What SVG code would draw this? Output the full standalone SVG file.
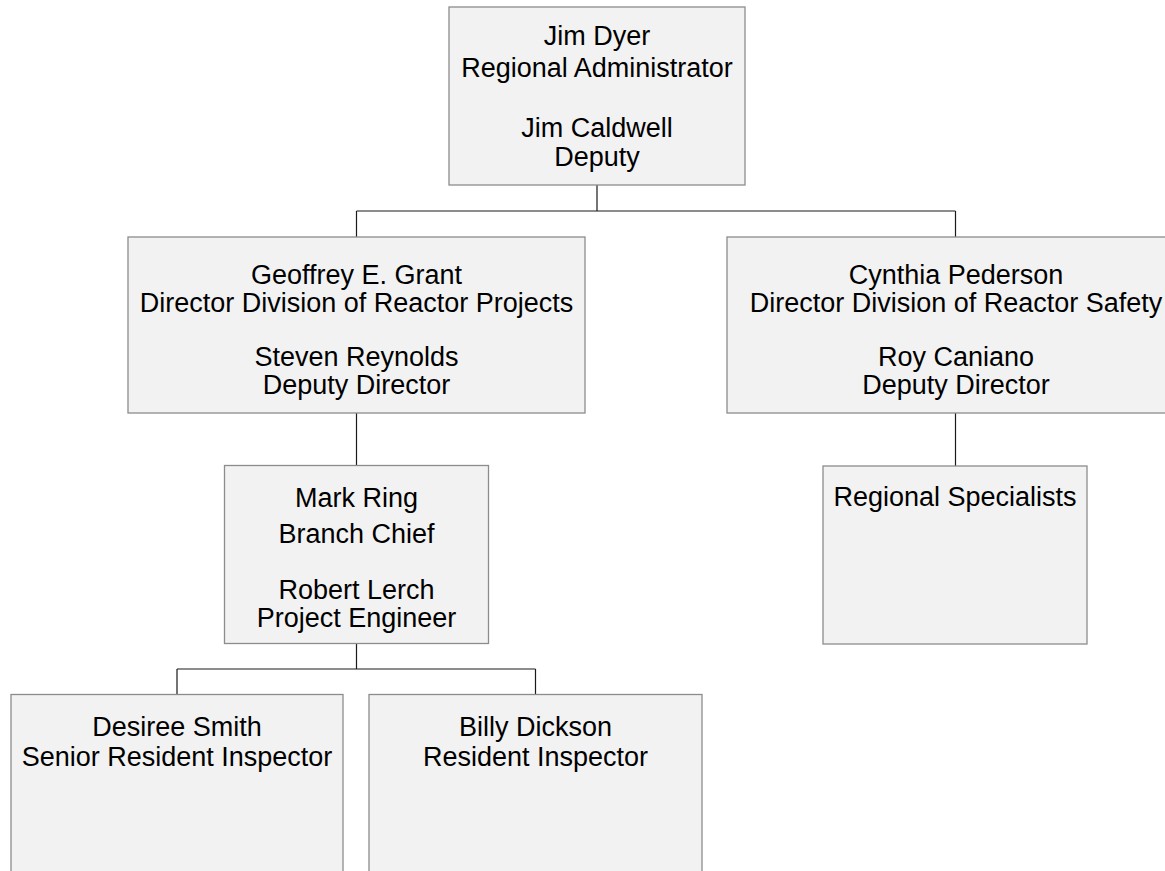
<svg xmlns="http://www.w3.org/2000/svg" width="1165" height="871" viewBox="0 0 1165 871">
<style>
.box{fill:#f2f2f2;stroke:#8c8c8c;stroke-width:1.3}
.t{font-family:"Liberation Sans",Arial,sans-serif;font-size:27px;fill:#000;text-anchor:middle}
.c{fill:none;stroke:#1a1a1a;stroke-width:1.2}
</style>
<rect width="1165" height="871" fill="#fff"/>
<g id="connectors">
<path class="c" d="M597,185V211M356.5,211H955.5M356.5,211V237M955.5,211V237"/>
<path class="c" d="M356.5,413V465.5"/>
<path class="c" d="M955.5,413V466"/>
<path class="c" d="M356.5,643.5V669M177,669H535.5M177,669V694.5M535.5,669V694.5"/>
</g>
<g id="n-dyer">
<rect class="box" x="449" y="7" width="296" height="178"/>
<text class="t" x="597" y="45">Jim Dyer</text>
<text class="t" x="597" y="77">Regional Administrator</text>
<text class="t" x="597" y="137">Jim Caldwell</text>
<text class="t" x="597" y="166">Deputy</text>
</g>
<g id="n-grant">
<rect class="box" x="128" y="237" width="457" height="176"/>
<text class="t" x="356.5" y="284">Geoffrey E. Grant</text>
<text class="t" x="356.5" y="312">Director Division of Reactor Projects</text>
<text class="t" x="356.5" y="366">Steven Reynolds</text>
<text class="t" x="356.5" y="394">Deputy Director</text>
</g>
<g id="n-pederson">
<rect class="box" x="727" y="237" width="458" height="176"/>
<text class="t" x="956" y="284">Cynthia Pederson</text>
<text class="t" x="956" y="312">Director Division of Reactor Safety</text>
<text class="t" x="956" y="366">Roy Caniano</text>
<text class="t" x="956" y="394">Deputy Director</text>
</g>
<g id="n-ring">
<rect class="box" x="224.5" y="465.5" width="264" height="178"/>
<text class="t" x="356.5" y="507">Mark Ring</text>
<text class="t" x="356.5" y="543">Branch Chief</text>
<text class="t" x="356.5" y="599">Robert Lerch</text>
<text class="t" x="356.5" y="627">Project Engineer</text>
</g>
<g id="n-specialists">
<rect class="box" x="823" y="466" width="264" height="178"/>
<text class="t" x="955" y="506">Regional Specialists</text>
</g>
<g id="n-smith">
<rect class="box" x="11" y="694.5" width="332" height="180"/>
<text class="t" x="177" y="736">Desiree Smith</text>
<text class="t" x="177" y="766">Senior Resident Inspector</text>
</g>
<g id="n-dickson">
<rect class="box" x="369" y="694.5" width="333" height="180"/>
<text class="t" x="535.5" y="736">Billy Dickson</text>
<text class="t" x="535.5" y="766">Resident Inspector</text>
</g>
</svg>
